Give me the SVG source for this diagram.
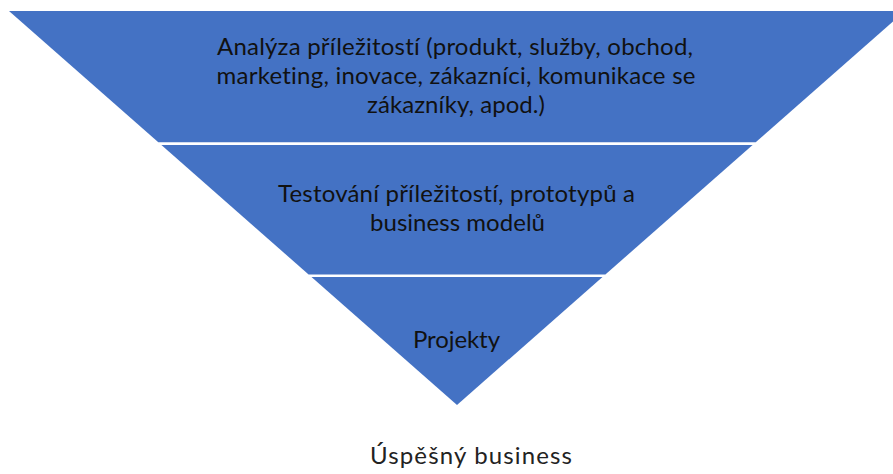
<svg xmlns="http://www.w3.org/2000/svg" width="893" height="474" viewBox="0 0 893 474">
<style>
.seg{fill:#4472C4}
.t{font-family:Lato,"Open Sans","Liberation Sans",sans-serif;font-size:24px;fill:#111111;text-anchor:middle;font-variant-ligatures:none}
.o{fill:#222222}
</style>
<rect width="893" height="474" fill="#ffffff"/>
<g id="level1">
<polygon class="seg" points="9,11 905,11 755.7,142.3 158.3,142.3"/>
<text class="t" x="455" y="55" textLength="476">Analýza příležitostí (produkt, služby, obchod,</text>
<text class="t" x="456" y="84" textLength="479">marketing, inovace, zákazníci, komunikace se</text>
<text class="t" x="456" y="113" textLength="178">zákazníky, apod.)</text>
</g>
<g id="level2">
<polygon class="seg" points="161.4,145 752.6,145 605.4,274.5 308.6,274.5"/>
<text class="t" x="456.5" y="202" textLength="357">Testování příležitostí, prototypů a</text>
<text class="t" x="457.5" y="231" textLength="175">business modelů</text>
</g>
<g id="level3">
<polygon class="seg" points="311.5,277 602.5,277 457,405"/>
<text class="t" x="456.5" y="348" textLength="87">Projekty</text>
</g>
<g id="result">
<text class="t o" x="471" y="464" textLength="202">Úspěšný business</text>
</g>
<g id="connectors"></g>
</svg>
